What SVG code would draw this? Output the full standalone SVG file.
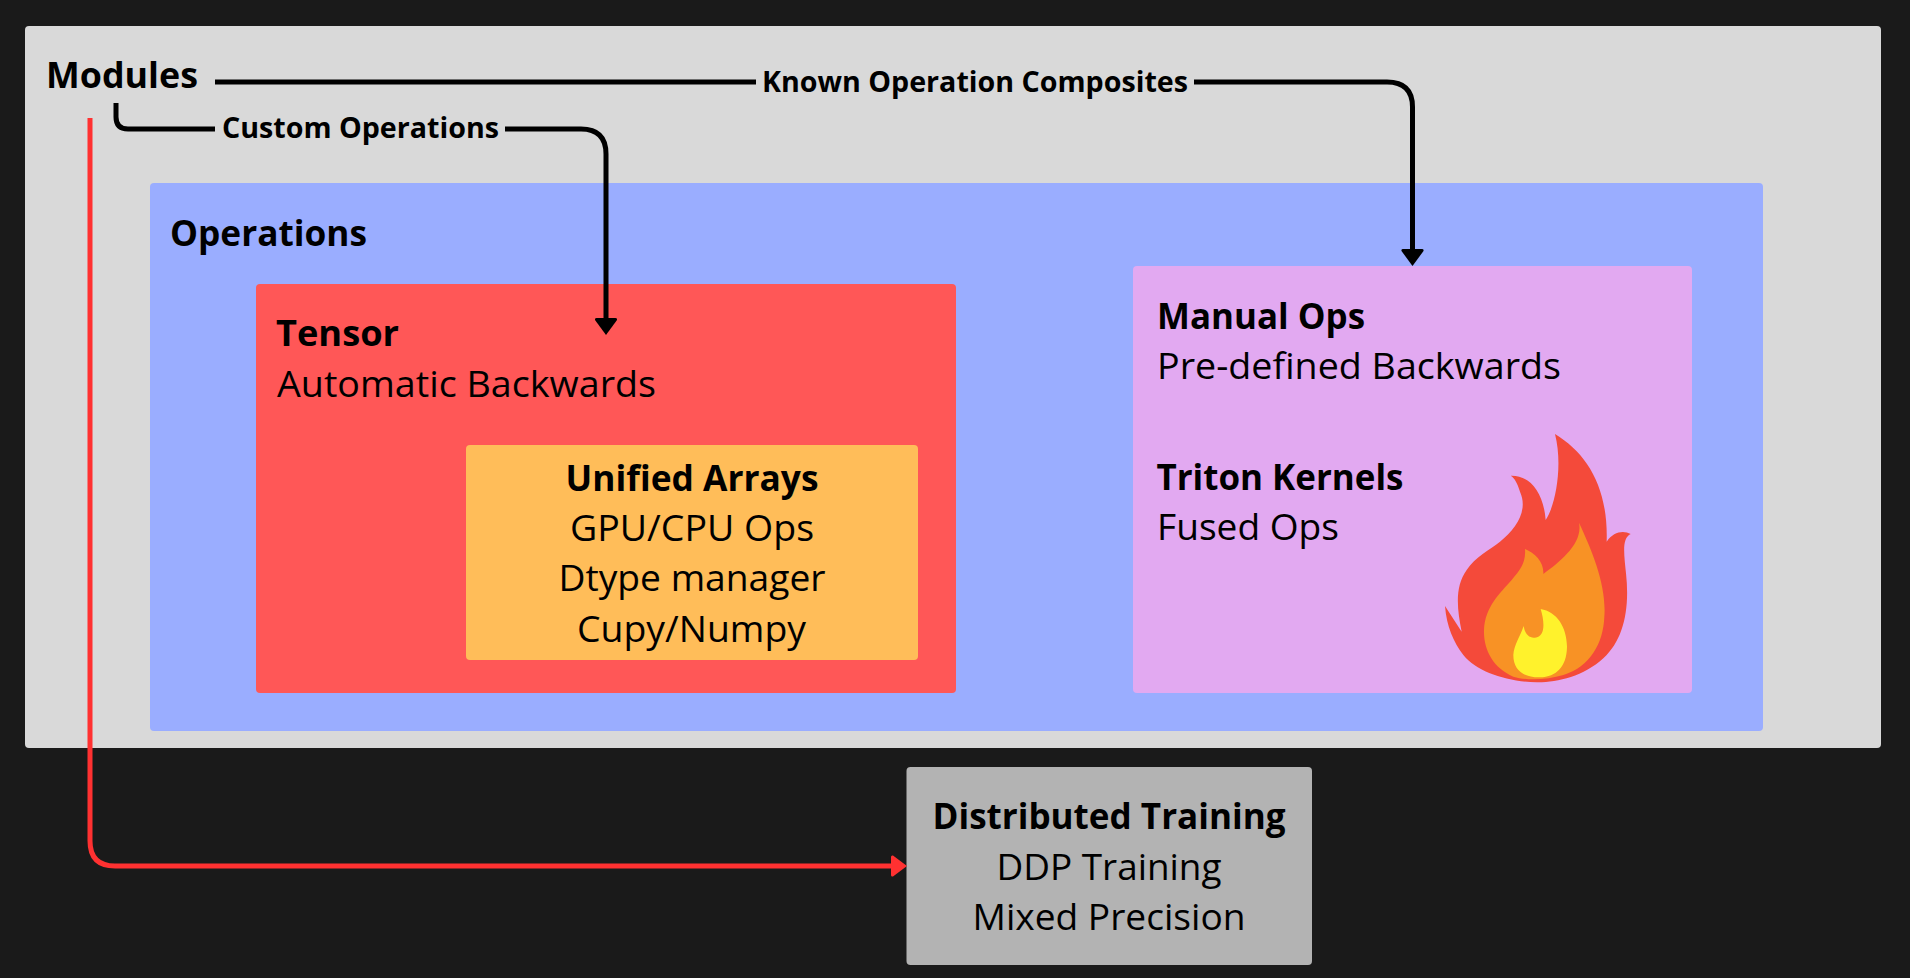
<svg xmlns="http://www.w3.org/2000/svg" width="1910" height="978" viewBox="0 0 1910 978">
<style>
text{font-family:"Open Sans","Noto Sans",sans-serif;fill:#000;font-size:36px}
.b{font-weight:700}
.s{font-weight:700;font-size:28px}
.m{text-anchor:middle}
.c{fill:none;stroke:#000;stroke-width:5}
</style>
<defs>
<marker id="ab" markerUnits="userSpaceOnUse" markerWidth="18" markerHeight="24" refX="6" refY="12" orient="auto"><path d="M0 2.5Q0 .5 2 1L17 12L2 23Q0 23.500 0 21.500Z" fill="#000"/></marker>
<marker id="ar" markerUnits="userSpaceOnUse" markerWidth="17" markerHeight="23" refX="6" refY="11.5" orient="auto"><path d="M0 2.5Q0 .5 2 1L16 11.5L2 22Q0 22.5 0 20.5Z" fill="#ff3131"/></marker>
</defs>
<rect width="1910" height="978" fill="#1a1a1a"/>
<g id="modules"><rect x="25" y="26" width="1856" height="722" rx="4" fill="#d9d9d9"/><text class="b" x="46" y="88" textLength="152" lengthAdjust="spacingAndGlyphs">Modules</text></g>
<g id="operations"><rect x="150" y="183" width="1613" height="548" rx="4" fill="#9aadff"/><text class="b" x="170" y="246" textLength="197" lengthAdjust="spacingAndGlyphs">Operations</text></g>
<g id="tensor"><rect x="256" y="284" width="700" height="409" rx="4" fill="#ff5757"/><text class="b" x="276" y="346" textLength="123" lengthAdjust="spacingAndGlyphs">Tensor</text><text x="277" y="397" textLength="379" lengthAdjust="spacingAndGlyphs">Automatic Backwards</text></g>
<g id="unified-arrays"><rect x="466" y="445" width="452" height="215" rx="4" fill="#ffbd59"/><text class="b m" x="692" y="491" textLength="253" lengthAdjust="spacingAndGlyphs">Unified Arrays</text><text class="m" x="692" y="541" textLength="244" lengthAdjust="spacingAndGlyphs">GPU/CPU Ops</text><text class="m" x="692" y="591" textLength="267" lengthAdjust="spacingAndGlyphs">Dtype manager</text><text class="m" x="691.500" y="642" textLength="229" lengthAdjust="spacingAndGlyphs">Cupy/Numpy</text></g>
<g id="manual-ops"><rect x="1133" y="266" width="559" height="427" rx="4" fill="#e2a9f1"/><text class="b" x="1157" y="329" textLength="208" lengthAdjust="spacingAndGlyphs">Manual Ops</text><text x="1157" y="379" textLength="404" lengthAdjust="spacingAndGlyphs">Pre-defined Backwards</text><text class="b" x="1156.500" y="490" textLength="247" lengthAdjust="spacingAndGlyphs">Triton Kernels</text><text x="1157" y="540" textLength="182" lengthAdjust="spacingAndGlyphs">Fused Ops</text>
<g id="flame" transform="translate(1400 410) scale(.33333)">
<path fill="#f44a3a" d="M465 72C560 130 625 230 620 395C640 365 670 360 692 372C665 385 672 430 678 490C690 600 670 690 610 745C550 800 470 818 410 817C320 815 230 785 190 735C160 695 140 650 135 588L185 665C170 590 165 530 200 480C225 440 270 420 300 395C350 355 385 300 360 245C352 220 345 205 332 197C385 195 430 240 437 330C465 290 490 170 465 72Z"/>
<path fill="#f89225" d="M537 338C580 430 620 530 613 620C610 700 570 770 490 795C440 810 380 812 340 800C280 775 250 720 252 660C255 590 300 550 335 510C360 480 378 460 375 417C405 430 432 455 430 492C480 455 550 400 537 338Z"/>
<path fill="#fff22c" d="M422 597C470 605 500 650 501 710C500 770 470 800 420 802C370 803 340 780 340 735C342 705 360 680 371 648C375 675 390 685 405 683C435 680 435 640 422 597Z"/>
</g></g>
<g id="distributed-training"><rect x="906.500" y="767" width="405.500" height="198" rx="4" fill="#b3b3b3"/><text class="b m" x="1109" y="829" textLength="353" lengthAdjust="spacingAndGlyphs">Distributed Training</text><text class="m" x="1109" y="880" textLength="225" lengthAdjust="spacingAndGlyphs">DDP Training</text><text class="m" x="1109" y="930" textLength="273" lengthAdjust="spacingAndGlyphs">Mixed Precision</text></g>
<g id="connectors">
<path class="c" d="M215 82H756"/>
<path class="c" d="M1194 82H1387Q1412.500 82 1412.500 107V255" marker-end="url(#ab)"/>
<path class="c" d="M116 103V117Q116 129 128 129H215"/>
<path class="c" d="M505 129H581Q606 129 606 154V324" marker-end="url(#ab)"/>
<path class="c" style="stroke:#ff3131" d="M90 118V841Q90 866 115 866H897" marker-end="url(#ar)"/>
<text class="s" x="762" y="92" textLength="426" lengthAdjust="spacingAndGlyphs">Known Operation Composites</text>
<text class="s" x="222" y="138" textLength="277" lengthAdjust="spacingAndGlyphs">Custom Operations</text>
</g>
</svg>
